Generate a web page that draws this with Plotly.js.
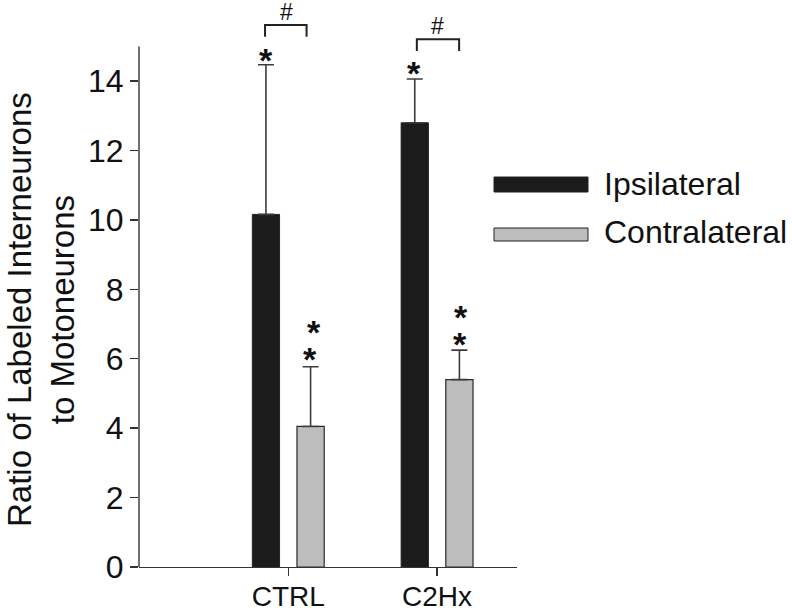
<!DOCTYPE html>
<html>
<head>
<meta charset="utf-8">
<script src="https://cdn.plot.ly/plotly-3.0.1.min.js"></script>
<style>html,body{margin:0;padding:0;background:#fff;}#chart{width:792px;height:613px;}</style>
</head>
<body>
<div id="chart"></div>
<script>
// ---- data ----
const categories = ['CTRL', 'C2Hx'];
const seriesNames = ['Ipsilateral', 'Contralateral'];
const ipsilateral = [10.16, 12.80];
const ipsilateralErr = [4.31, 1.26];
const contralateral = [4.05, 5.40];
const contralateralErr = [1.72, 0.85];
const yTicks = [0, 2, 4, 6, 8, 10, 12, 14];
// significance markers: [category index, x offset, y]
const starMarks = [[0, -0.150, 14.73], [1, -0.155, 14.35], [0, 0.146, 6.11], [0, 0.175, 6.88], [1, 0.154, 6.54], [1, 0.159, 7.31]];
// brackets: [category index, left offset, right offset, top y, leg end y]
const hashBrackets = [[0, -0.156, 0.123, 15.62, 15.28], [1, -0.136, 0.148, 15.21, 14.87]];
const hashMarks = [[0, -0.015, 15.99], [1, 0.005, 15.60]];

const xIdx = categories.map((c, i) => i);
const FONT = 'Liberation Sans, Arial, Helvetica, sans-serif';

const traces = [
  {type: 'bar', name: seriesNames[0], x: xIdx, y: ipsilateral,
   marker: {color: '#1b1b1b', line: {color: '#222', width: 1}},
   error_y: {type: 'data', symmetric: false, array: ipsilateralErr, arrayminus: [0, 0], color: '#3c3c3c', thickness: 1.6, width: 8},
   showlegend: false, hoverinfo: 'skip'},
  {type: 'bar', name: seriesNames[1], x: xIdx, y: contralateral,
   marker: {color: '#bdbdbd', line: {color: '#2a2a2a', width: 1.2}},
   error_y: {type: 'data', symmetric: false, array: contralateralErr, arrayminus: [0, 0], color: '#3c3c3c', thickness: 1.6, width: 8},
   showlegend: false, hoverinfo: 'skip'}
];

// plot area geometry (pixels): left 139, right 517, top 2, bottom 567
const L = 139, R = 517, T = 2, B = 567;
const px2paperX = px => (px - L) / (R - L);
const px2paperY = py => (B - py) / (B - T);

const shapes = [];
// y axis line from 0 to 15
shapes.push({type: 'line', xref: 'paper', yref: 'y', x0: 0, x1: 0, y0: 0, y1: 15, line: {color: '#333', width: 1.4}});
hashBrackets.forEach(b => {
  const [i, l, r, top, end] = b;
  shapes.push({type: 'path', xref: 'x', yref: 'y',
    path: `M ${i + l},${end} L ${i + l},${top} L ${i + r},${top} L ${i + r},${end}`,
    line: {color: '#222', width: 2}});
});

const annotations = [];
starMarks.forEach(s => annotations.push({xref: 'x', yref: 'y', x: s[0] + s[1], y: s[2], text: '<b>*</b>', showarrow: false,
  xanchor: 'center', yanchor: 'middle', yshift: -4, font: {family: FONT, size: 34, color: '#111'}}));
hashMarks.forEach(h => annotations.push({xref: 'x', yref: 'y', x: h[0] + h[1], y: h[2], text: '#', showarrow: false,
  xanchor: 'center', yanchor: 'middle', font: {family: FONT, size: 23, color: '#111'}}));

// y title
annotations.push({xref: 'paper', yref: 'paper', x: px2paperX(41), y: px2paperY(310), textangle: -90,
  text: 'Ratio of Labeled Interneurons<br>to Motoneurons', showarrow: false, xanchor: 'center', yanchor: 'middle',
  font: {family: FONT, size: 33, color: '#111'}});

// legend (manual)
const legendRows = [[177, 192, '#1b1b1b', 183.5], [228, 241, '#bdbdbd', 232]];
legendRows.forEach((row, k) => {
  shapes.push({type: 'rect', xref: 'paper', yref: 'paper', x0: px2paperX(494), x1: px2paperX(588),
    y0: px2paperY(row[1]), y1: px2paperY(row[0]), fillcolor: row[2], line: {color: '#222', width: 1}});
  annotations.push({xref: 'paper', yref: 'paper', x: px2paperX(602), y: px2paperY(row[3]), text: seriesNames[k],
    showarrow: false, xanchor: 'left', yanchor: 'middle', font: {family: FONT, size: 32, color: '#111'}});
});

const layout = {
  width: 792, height: 613,
  margin: {l: L, r: 792 - R, t: T, b: 613 - B},
  paper_bgcolor: '#fff', plot_bgcolor: '#fff',
  barmode: 'group', bargap: 0.4, bargroupgap: 0.39,
  showlegend: false,
  font: {family: FONT, color: '#111'},
  xaxis: {range: [-1.003, 1.537], tickvals: xIdx, ticktext: categories, showline: true, linecolor: '#333', linewidth: 1.4,
    ticks: 'outside', ticklen: 8, tickcolor: '#333', tickwidth: 1.4, showgrid: false, zeroline: false,
    ticklabelstandoff: -4, tickfont: {family: FONT, size: 28, color: '#111'}},
  yaxis: {range: [0, 16.28], tickvals: yTicks, showline: false, ticks: 'outside', ticklen: 8, tickcolor: '#333', tickwidth: 1.4,
    showgrid: false, zeroline: false, tickfont: {family: FONT, size: 32, color: '#111'}},
  shapes: shapes,
  annotations: annotations
};

Plotly.newPlot('chart', traces, layout, {displayModeBar: false, staticPlot: true});
</script>
</body>
</html>
